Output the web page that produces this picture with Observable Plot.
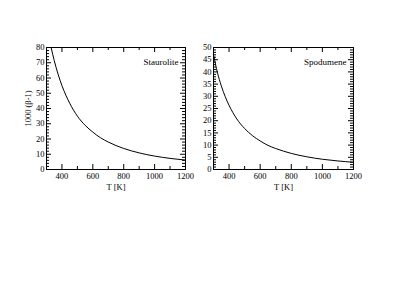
<!DOCTYPE html>
<html>
<head>
<meta charset="utf-8">
<script src="https://cdn.jsdelivr.net/npm/d3@7"></script>
<script src="https://cdn.jsdelivr.net/npm/@observablehq/plot@0.6"></script>
<style>
  html, body { margin: 0; padding: 0; background: #fff; }
  #wrap { position: relative; width: 399px; height: 308px; }
  #wrap svg { position: absolute; top: 0; overflow: visible; }
</style>
</head>
<body>
<div id="wrap"></div>
<script>
// Temperature grid (K)
const stauroliteT = [330, 350, 375, 400, 450, 500, 550, 600, 650, 700, 800, 900, 1000, 1100, 1200];
const stauroliteV = [80, 71.5, 62.5, 55, 43.5, 35, 29, 24.5, 20.8, 18, 13.8, 10.9, 8.8, 7.3, 6.2];
const spodumeneT = [302, 325, 350, 375, 400, 450, 500, 550, 600, 650, 700, 800, 900, 1000, 1100, 1200];
const spodumeneV = [46.5, 39.8, 34.3, 29.9, 26.3, 20.7, 16.8, 13.9, 11.7, 9.9, 8.6, 6.6, 5.2, 4.2, 3.5, 2.95];
const panelNames = ["Staurolite", "Spodumene"];
const xLabel = "T [K]";
const yLabel = "1000 (β-1)";
const xMajor = [400, 600, 800, 1000, 1200];
const xMinor = [300, 500, 700, 900, 1100];
const yMajorA = [0, 10, 20, 30, 40, 50, 60, 70, 80];
const yMajorB = [0, 5, 10, 15, 20, 25, 30, 35, 40, 45, 50];

const font = "Liberation Serif, Times New Roman, serif";
const fs = 8.5;

function panel({T, V, name, yMax, yMajor, yMinorStep, showYLabel, left, width, marginLeft, marginRight}) {
  const marginTop = 47, marginBottom = 139, height = 308;
  const fw = width - marginLeft - marginRight;
  const fh = height - marginTop - marginBottom;
  const data = T.map((t, i) => ({T: t, v: V[i]}));
  const yMinor = d3.range(0, yMax + 1e-9, yMinorStep).filter(v => !yMajor.includes(v));
  const majL = 5, minL = 3;
  const chart = Plot.plot({
    width, height, marginLeft, marginRight, marginTop, marginBottom,
    style: {fontFamily: font, fontSize: fs + "px", color: "#000", background: "transparent"},
    x: {domain: [300, 1200]},
    y: {domain: [0, yMax]},
    marks: [
      Plot.axisX(xMajor, {tickSize: 0, tickPadding: 3, tickFormat: d => String(d), label: xLabel, labelAnchor: "center", labelArrow: "none", labelOffset: 20, fontSize: fs}),
      Plot.axisY(yMajor, {tickSize: 0, tickPadding: 2, tickFormat: d => String(d), label: showYLabel ? yLabel : null, labelAnchor: "center", labelArrow: "none", labelOffset: 22, fontSize: fs}),
      // inward ticks on all sides
      Plot.tickX(xMajor, {x: d => d, insetTop: fh - majL, stroke: "#000"}),
      Plot.tickX(xMinor, {x: d => d, insetTop: fh - minL, stroke: "#000"}),
      Plot.tickX(xMajor, {x: d => d, insetBottom: fh - majL, stroke: "#000"}),
      Plot.tickX(xMinor, {x: d => d, insetBottom: fh - minL, stroke: "#000"}),
      Plot.tickY(yMajor, {y: d => d, insetRight: fw - majL, stroke: "#000"}),
      Plot.tickY(yMinor, {y: d => d, insetRight: fw - minL, stroke: "#000"}),
      Plot.tickY(yMajor, {y: d => d, insetLeft: fw - majL, stroke: "#000"}),
      Plot.tickY(yMinor, {y: d => d, insetLeft: fw - minL, stroke: "#000"}),
      Plot.line(data, {x: "T", y: "v", stroke: "#000", strokeWidth: 1, curve: "monotone-x", clip: true}),
      Plot.text([name], {frameAnchor: "top-right", dx: -7, dy: 11, text: d => d, fontSize: 9, fill: "#000"}),
      Plot.frame({stroke: "#000", strokeWidth: 1})
    ]
  });
  chart.style.left = left + "px";
  return chart;
}

const wrap = document.getElementById("wrap");
wrap.appendChild(panel({T: stauroliteT, V: stauroliteV, name: panelNames[0], yMax: 80, yMajor: yMajorA, yMinorStep: 2, showYLabel: true, left: 0, width: 190, marginLeft: 46, marginRight: 5}));
wrap.appendChild(panel({T: spodumeneT, V: spodumeneV, name: panelNames[1], yMax: 50, yMajor: yMajorB, yMinorStep: 1, showYLabel: false, left: 190, width: 209, marginLeft: 23, marginRight: 46}));
</script>
</body>
</html>
